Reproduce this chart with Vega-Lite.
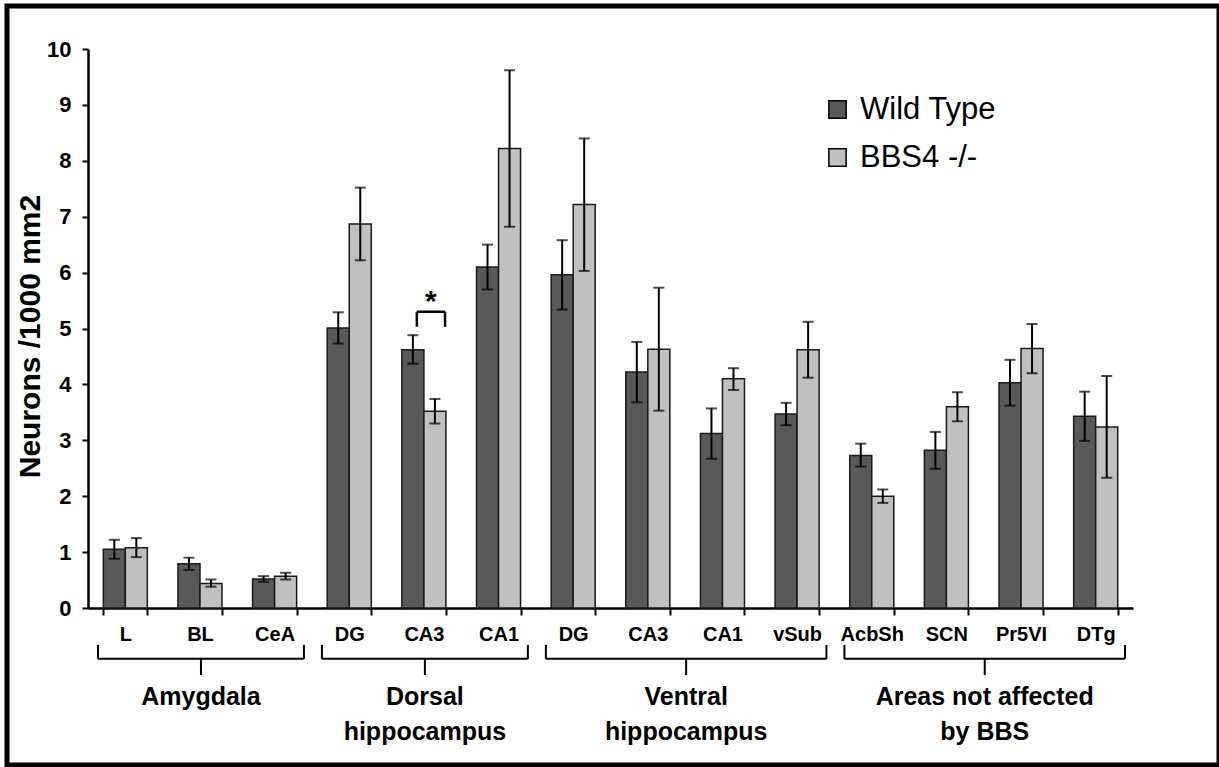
{
  "$schema": "https://vega.github.io/schema/vega-lite/v6.json",
  "width": 1212,
  "height": 759,
  "autosize": {"type": "none"},
  "padding": {"left": 7, "top": 6, "right": 0, "bottom": 2},
  "background": "white",
  "config": {
    "view": {"stroke": "black", "strokeWidth": 5},
    "font": "Liberation Sans",
    "axis": {"domainColor": "black", "tickColor": "black", "labelColor": "black", "titleColor": "black", "grid": false, "labelFont": "Liberation Sans", "titleFont": "Liberation Sans"}
  },
  "datasets": {
    "bars": [
      {"key": "A|L", "genotype": "Wild Type", "mean": 1.05, "lo": 0.88, "hi": 1.22},
      {"key": "A|L", "genotype": "BBS4 -/-", "mean": 1.08, "lo": 0.91, "hi": 1.25},
      {"key": "A|BL", "genotype": "Wild Type", "mean": 0.79, "lo": 0.68, "hi": 0.90},
      {"key": "A|BL", "genotype": "BBS4 -/-", "mean": 0.44, "lo": 0.38, "hi": 0.51},
      {"key": "A|CeA", "genotype": "Wild Type", "mean": 0.52, "lo": 0.47, "hi": 0.57},
      {"key": "A|CeA", "genotype": "BBS4 -/-", "mean": 0.57, "lo": 0.51, "hi": 0.63},
      {"key": "D|DG", "genotype": "Wild Type", "mean": 5.01, "lo": 4.73, "hi": 5.29},
      {"key": "D|DG", "genotype": "BBS4 -/-", "mean": 6.87, "lo": 6.22, "hi": 7.52},
      {"key": "D|CA3", "genotype": "Wild Type", "mean": 4.62, "lo": 4.37, "hi": 4.88},
      {"key": "D|CA3", "genotype": "BBS4 -/-", "mean": 3.52, "lo": 3.30, "hi": 3.74},
      {"key": "D|CA1", "genotype": "Wild Type", "mean": 6.10, "lo": 5.70, "hi": 6.50},
      {"key": "D|CA1", "genotype": "BBS4 -/-", "mean": 8.22, "lo": 6.82, "hi": 9.62},
      {"key": "V|DG", "genotype": "Wild Type", "mean": 5.96, "lo": 5.34, "hi": 6.58},
      {"key": "V|DG", "genotype": "BBS4 -/-", "mean": 7.22, "lo": 6.03, "hi": 8.40},
      {"key": "V|CA3", "genotype": "Wild Type", "mean": 4.22, "lo": 3.68, "hi": 4.76},
      {"key": "V|CA3", "genotype": "BBS4 -/-", "mean": 4.63, "lo": 3.53, "hi": 5.73},
      {"key": "V|CA1", "genotype": "Wild Type", "mean": 3.12, "lo": 2.67, "hi": 3.57},
      {"key": "V|CA1", "genotype": "BBS4 -/-", "mean": 4.10, "lo": 3.90, "hi": 4.29},
      {"key": "V|vSub", "genotype": "Wild Type", "mean": 3.47, "lo": 3.27, "hi": 3.67},
      {"key": "V|vSub", "genotype": "BBS4 -/-", "mean": 4.62, "lo": 4.12, "hi": 5.12},
      {"key": "N|AcbSh", "genotype": "Wild Type", "mean": 2.73, "lo": 2.53, "hi": 2.94},
      {"key": "N|AcbSh", "genotype": "BBS4 -/-", "mean": 2.00, "lo": 1.88, "hi": 2.12},
      {"key": "N|SCN", "genotype": "Wild Type", "mean": 2.82, "lo": 2.49, "hi": 3.15},
      {"key": "N|SCN", "genotype": "BBS4 -/-", "mean": 3.60, "lo": 3.34, "hi": 3.86},
      {"key": "N|Pr5VI", "genotype": "Wild Type", "mean": 4.03, "lo": 3.62, "hi": 4.44},
      {"key": "N|Pr5VI", "genotype": "BBS4 -/-", "mean": 4.64, "lo": 4.20, "hi": 5.08},
      {"key": "N|DTg", "genotype": "Wild Type", "mean": 3.43, "lo": 2.99, "hi": 3.87},
      {"key": "N|DTg", "genotype": "BBS4 -/-", "mean": 3.24, "lo": 2.33, "hi": 4.15}
    ],
    "groups": [
      {"label": "Amygdala", "start": 0, "end": 3},
      {"label": "Dorsal\nhippocampus", "start": 3, "end": 6},
      {"label": "Ventral\nhippocampus", "start": 6, "end": 10},
      {"label": "Areas not affected\nby BBS", "start": 10, "end": 14}
    ]
  },
  "resolve": {"scale": {"x": "independent"}, "axis": {"x": "independent"}},
  "layer": [
    {
      "data": {"name": "bars"},
      "layer": [
        {
          "mark": {"type": "bar", "stroke": "#1a1a1a", "strokeWidth": 1.5},
          "encoding": {
            "x": {
              "field": "key", "type": "nominal", "sort": null,
              "scale": {"range": [81, 1126], "paddingInner": 0.41, "paddingOuter": 0.205},
              "axis": {
                "title": null, "offset": -157, "tickBand": "extent", "tickSize": 7, "tickWidth": 2,
                "domainWidth": 2.5, "labelFontSize": 20, "labelFontWeight": "bold", "labelPadding": 9,
                "labelAngle": 0, "labelExpr": "split(datum.label, '|')[1]"
              }
            },
            "xOffset": {"field": "genotype", "type": "nominal", "sort": ["Wild Type", "BBS4 -/-"]},
            "y": {
              "field": "mean", "type": "quantitative", "title": "Neurons /1000 mm2",
              "scale": {"domain": [0, 10], "range": [602, 43], "nice": false, "zero": true},
              "axis": {
                "offset": -81, "values": [0, 1, 2, 3, 4, 5, 6, 7, 8, 9, 10], "format": "d", "tickSize": 6, "tickWidth": 2,
                "domainWidth": 2.5, "labelFontSize": 22, "labelFontWeight": "bold", "labelPadding": 11,
                "titleFontSize": 30, "titleFontWeight": "bold", "titleX": -58, "titleY": 330,
                "titleBaseline": "middle", "titleAngle": -90, "titleAlign": "center"
              }
            },
            "color": {
              "field": "genotype", "type": "nominal",
              "scale": {"domain": ["Wild Type", "BBS4 -/-"], "range": ["#595959", "#c0c0c0"]},
              "legend": {
                "orient": "none", "legendX": 815, "legendY": 88, "title": null, "symbolType": "square",
                "symbolSize": 300, "symbolStrokeColor": "black", "symbolStrokeWidth": 1.5,
                "labelFontSize": 31, "labelFont": "Liberation Sans", "labelColor": "black",
                "labelOffset": 7, "rowPadding": 16
              }
            }
          }
        },
        {
          "mark": {"type": "rule", "color": "black", "strokeWidth": 2},
          "encoding": {
            "x": {"field": "key", "type": "nominal", "sort": null},
            "xOffset": {"field": "genotype", "type": "nominal", "sort": ["Wild Type", "BBS4 -/-"]},
            "y": {"field": "lo", "type": "quantitative", "title": "Neurons /1000 mm2", "scale": {"domain": [0, 10], "range": [602, 43], "nice": false}},
            "y2": {"field": "hi"}
          }
        },
        {
          "mark": {"type": "tick", "color": "black", "thickness": 2, "size": 11},
          "encoding": {
            "x": {"field": "key", "type": "nominal", "sort": null},
            "xOffset": {"field": "genotype", "type": "nominal", "sort": ["Wild Type", "BBS4 -/-"]},
            "y": {"field": "lo", "type": "quantitative", "title": "Neurons /1000 mm2", "scale": {"domain": [0, 10], "range": [602, 43], "nice": false}}
          }
        },
        {
          "mark": {"type": "tick", "color": "black", "thickness": 2, "size": 11},
          "encoding": {
            "x": {"field": "key", "type": "nominal", "sort": null},
            "xOffset": {"field": "genotype", "type": "nominal", "sort": ["Wild Type", "BBS4 -/-"]},
            "y": {"field": "hi", "type": "quantitative", "title": "Neurons /1000 mm2", "scale": {"domain": [0, 10], "range": [602, 43], "nice": false}}
          }
        },
        {
          "transform": [{"filter": "datum.key == 'D|CA3' && datum.genotype == 'Wild Type'"}],
          "mark": {"type": "rule", "color": "black", "strokeWidth": 2.5},
          "encoding": {
            "x": {"field": "key", "type": "nominal", "sort": null, "bandPosition": 0.34},
            "x2": {"field": "key", "bandPosition": 0.98},
            "y": {"datum": 5.3, "type": "quantitative", "scale": {"domain": [0, 10], "range": [602, 43], "nice": false}}
          }
        },
        {
          "transform": [{"filter": "datum.key == 'D|CA3' && datum.genotype == 'Wild Type'"}],
          "mark": {"type": "rule", "color": "black", "strokeWidth": 2.5},
          "encoding": {
            "x": {"field": "key", "type": "nominal", "sort": null, "bandPosition": 0.34},
            "y": {"datum": 5.03, "type": "quantitative", "scale": {"domain": [0, 10], "range": [602, 43], "nice": false}},
            "y2": {"datum": 5.3}
          }
        },
        {
          "transform": [{"filter": "datum.key == 'D|CA3' && datum.genotype == 'Wild Type'"}],
          "mark": {"type": "rule", "color": "black", "strokeWidth": 2.5},
          "encoding": {
            "x": {"field": "key", "type": "nominal", "sort": null, "bandPosition": 0.98},
            "y": {"datum": 5.03, "type": "quantitative", "scale": {"domain": [0, 10], "range": [602, 43], "nice": false}},
            "y2": {"datum": 5.3}
          }
        },
        {
          "transform": [{"filter": "datum.key == 'D|CA3' && datum.genotype == 'Wild Type'"}],
          "mark": {"type": "text", "text": "*", "font": "Liberation Sans", "fontSize": 30, "fontWeight": "bold", "color": "black", "baseline": "middle", "align": "center"},
          "encoding": {
            "x": {"field": "key", "type": "nominal", "sort": null, "bandPosition": 0.66},
            "y": {"datum": 5.48, "type": "quantitative", "scale": {"domain": [0, 10], "range": [602, 43], "nice": false}}
          }
        }
      ]
    },
    {
      "data": {"name": "groups"},
      "transform": [{"calculate": "(datum.start + datum.end) / 2", "as": "mid"}],
      "layer": [
        {
          "mark": {"type": "rule", "color": "black", "strokeWidth": 2, "xOffset": 10, "x2Offset": -8},
          "encoding": {
            "x": {"field": "start", "type": "quantitative", "axis": null, "scale": {"domain": [0, 14], "range": [81, 1126], "nice": false, "zero": false}},
            "x2": {"field": "end"},
            "y": {"datum": -0.91, "type": "quantitative", "scale": {"domain": [0, 10], "range": [602, 43], "nice": false}}
          }
        },
        {
          "mark": {"type": "rule", "color": "black", "strokeWidth": 2, "xOffset": 10},
          "encoding": {
            "x": {"field": "start", "type": "quantitative", "axis": null, "scale": {"domain": [0, 14], "range": [81, 1126], "nice": false, "zero": false}},
            "y": {"datum": -0.66, "type": "quantitative", "scale": {"domain": [0, 10], "range": [602, 43], "nice": false}},
            "y2": {"datum": -0.91}
          }
        },
        {
          "mark": {"type": "rule", "color": "black", "strokeWidth": 2, "xOffset": -8},
          "encoding": {
            "x": {"field": "end", "type": "quantitative", "axis": null, "scale": {"domain": [0, 14], "range": [81, 1126], "nice": false, "zero": false}},
            "y": {"datum": -0.66, "type": "quantitative", "scale": {"domain": [0, 10], "range": [602, 43], "nice": false}},
            "y2": {"datum": -0.91}
          }
        },
        {
          "mark": {"type": "rule", "color": "black", "strokeWidth": 2, "xOffset": 1},
          "encoding": {
            "x": {"field": "mid", "type": "quantitative", "axis": null, "scale": {"domain": [0, 14], "range": [81, 1126], "nice": false, "zero": false}},
            "y": {"datum": -0.91, "type": "quantitative", "scale": {"domain": [0, 10], "range": [602, 43], "nice": false}},
            "y2": {"datum": -1.2}
          }
        },
        {
          "mark": {"type": "text", "font": "Liberation Sans", "fontSize": 25, "fontWeight": "bold", "color": "black", "align": "center", "baseline": "top", "lineBreak": "\n", "lineHeight": 35, "xOffset": 1},
          "encoding": {
            "x": {"field": "mid", "type": "quantitative", "axis": null, "scale": {"domain": [0, 14], "range": [81, 1126], "nice": false, "zero": false}},
            "y": {"datum": -1.38, "type": "quantitative", "scale": {"domain": [0, 10], "range": [602, 43], "nice": false}},
            "text": {"field": "label", "type": "nominal"}
          }
        }
      ]
    }
  ]
}
